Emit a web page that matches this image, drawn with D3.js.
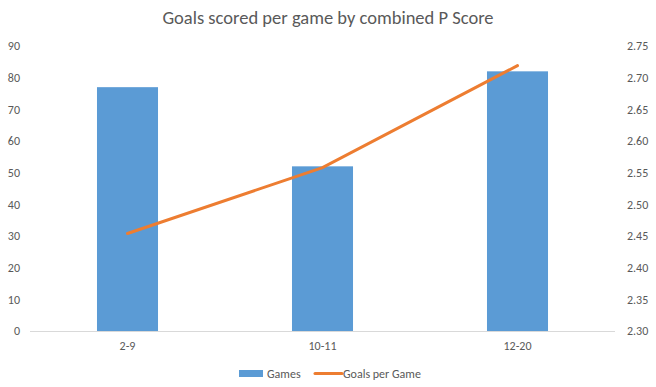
<!DOCTYPE html>
<meta charset="utf-8">
<style>
	body { margin: 0; background: #fff; }
	svg text { font-family: Carlito, "Liberation Sans", Calibri, sans-serif; fill: #595959; }
</style>
<svg width="656" height="387"></svg>
<script src="https://d3js.org/d3.v7.min.js"></script>
<script>
	var categories = ['2-9', '10-11', '12-20']
	var games = [77, 52, 82]
	var goalsPerGame = [2.454, 2.558, 2.719]
	var leftTicks = [0, 10, 20, 30, 40, 50, 60, 70, 80, 90]
	var rightTicks = [2.30, 2.35, 2.40, 2.45, 2.50, 2.55, 2.60, 2.65, 2.70, 2.75]

	var svg = d3.select('svg'),
		margin = { top: 46, right: 41, bottom: 56, left: 30 },
		width = +svg.attr('width') - margin.left - margin.right,
		height = +svg.attr('height') - margin.top - margin.bottom,
		g = svg.append('g').attr('transform', 'translate(' + margin.left + ',' + margin.top + ')')

	var x = d3.scaleBand().domain(categories).range([0, width]).paddingInner(0.687).paddingOuter(0.3435),
		y = d3.scaleLinear().domain([0, 90]).range([height, 0]),
		y2 = d3.scaleLinear().domain([2.30, 2.75]).range([height, 0])

	// title
	svg.append('text')
		.attr('x', 328).attr('y', 24)
		.attr('text-anchor', 'middle')
		.style('font-size', '18.5px')
		.text('Goals scored per game by combined P Score')

	// left axis labels
	g.selectAll('.ltick').data(leftTicks).enter().append('text')
		.attr('class', 'ltick')
		.attr('x', -10).attr('y', d => y(d)).attr('dy', '0.35em')
		.attr('text-anchor', 'end')
		.style('font-size', '12px')
		.text(d => d)

	// right axis labels
	g.selectAll('.rtick').data(rightTicks).enter().append('text')
		.attr('class', 'rtick')
		.attr('x', width + 12).attr('y', d => y2(d)).attr('dy', '0.35em')
		.style('font-size', '12px')
		.text(d => d.toFixed(2))

	// bars
	g.selectAll('.bar').data(games).enter().append('rect')
		.attr('class', 'bar')
		.attr('x', (d, i) => x(categories[i]))
		.attr('y', d => y(d))
		.attr('width', x.bandwidth())
		.attr('height', d => height - y(d))
		.attr('fill', '#5B9BD5')

	// baseline
	g.append('line')
		.attr('x1', 0).attr('x2', width)
		.attr('y1', height + 0.5).attr('y2', height + 0.5)
		.attr('stroke', '#d9d9d9').attr('stroke-width', 1)

	// category labels
	g.selectAll('.cat').data(categories).enter().append('text')
		.attr('class', 'cat')
		.attr('x', d => x(d) + x.bandwidth() / 2)
		.attr('y', height + 19)
		.attr('text-anchor', 'middle')
		.style('font-size', '12px')
		.text(d => d)

	// line
	var line = d3.line()
		.x((d, i) => x(categories[i]) + x.bandwidth() / 2)
		.y(d => y2(d))

	g.append('path')
		.attr('d', line(goalsPerGame))
		.attr('fill', 'none')
		.attr('stroke', '#ED7D31')
		.attr('stroke-width', 3)
		.attr('stroke-linecap', 'round')

	// legend
	var lg = svg.append('g')
	lg.append('rect').attr('x', 239).attr('y', 370).attr('width', 24).attr('height', 7).attr('fill', '#5B9BD5')
	lg.append('text').attr('x', 267).attr('y', 377.5).style('font-size', '12px').text('Games')
	lg.append('line').attr('x1', 315).attr('x2', 342).attr('y1', 373.5).attr('y2', 373.5)
		.attr('stroke', '#ED7D31').attr('stroke-width', 3).attr('stroke-linecap', 'round')
	lg.append('text').attr('x', 343).attr('y', 377.5).style('font-size', '12px').text('Goals per Game')
</script>
